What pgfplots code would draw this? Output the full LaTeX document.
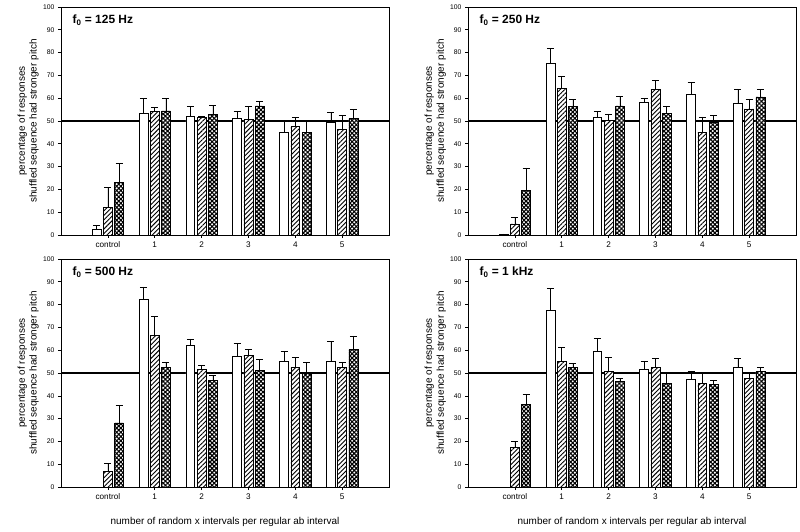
\documentclass[border=0pt]{standalone}
\usepackage{pgfplots}
\pgfplotsset{compat=1.18}
\usepackage{pgfplotstable}
\usetikzlibrary{patterns,patterns.meta}
\usepackage{fontspec}
\setmainfont{Liberation Sans}

\pgfplotstableread{
x w we h he c ce
0 2.5 1.6 12.2 8.7 22.9 8.6
1 53.4 6.4 54.1 1.8 54.4 5.5
2 52.2 4.1 51.6 0.4 52.9 4.0
3 51.0 3.1 50.7 5.6 56.6 1.9
4 45.1 4.9 47.8 3.7 45.1 4.8
5 49.3 4.4 46.3 6.2 51.0 4.1
}\dataA
\pgfplotstableread{
x w we h he c ce
0 0.5 0.0 4.9 3.0 19.4 10.0
1 75.4 6.5 64.3 5.3 56.3 3.3
2 51.8 2.3 50.4 2.7 56.6 4.4
3 58.4 1.7 63.8 4.1 53.2 3.1
4 61.5 5.3 45.0 6.8 49.3 3.2
5 57.8 6.3 55.3 4.4 60.6 3.4
}\dataB
\pgfplotstableread{
x w we h he c ce
0 nan nan 6.7 3.6 28.1 7.6
1 82.4 5.4 66.5 8.3 52.6 2.1
2 62.0 3.0 51.5 2.0 46.9 2.1
3 57.3 5.8 57.7 2.8 51.3 4.7
4 55.1 4.4 52.3 4.6 49.9 4.8
5 55.2 8.6 52.6 2.2 60.2 6.1
}\dataC
\pgfplotstableread{
x w we h he c ce
0 nan nan 17.2 2.9 36.1 4.5
1 77.4 9.8 55.0 6.3 52.5 1.8
2 59.7 5.5 50.6 6.1 46.2 1.6
3 51.8 3.5 52.3 4.2 45.3 4.7
4 47.2 3.7 45.5 4.4 45.0 1.8
5 52.5 4.0 47.5 2.4 50.6 1.9
}\dataD

\pgfplotsset{
 panel/.style={
  scale only axis, width=328bp, height=228bp,
  anchor=south west,
  xmin=-1, xmax=6, ymin=0, ymax=100,
  xtick={0,...,5}, xticklabels={control,1,2,3,4,5},
  ytick={0,10,...,100},
  extra y ticks={50}, extra y tick labels={},
  extra y tick style={grid=major, major grid style={black, line width=1.3pt}, major tick length=0pt},
  tick align=outside, ytick pos=left, xtick pos=bottom,
  major tick length=3bp,
  tick style={black, line width=0.6pt},
  axis line style={line width=0.8pt},
  yticklabel style={font=\fontsize{6.8}{8}\selectfont},
  xticklabel style={font=\fontsize{8.2}{9}\selectfont},
  /pgf/number format/assume math mode=true,
  ylabel={percentage of responses\\shuffled sequence had stronger pitch},
  every axis y label/.style={at={(axis description cs:-0.1,0.5)}, rotate=90, anchor=center, align=center, font=\fontsize{10}{12}\selectfont},
  every axis x label/.style={at={(axis description cs:0.5,0)}, yshift=-35bp, anchor=center, font=\fontsize{10}{12}\selectfont},
 },
 eb/.style={error bars/y dir=plus, error bars/y explicit,
  error bars/error bar style={black,line width=0.6pt},
  error bars/error mark options={black, rotate=90, mark size=3.5bp, line width=0.6pt}},
 barA/.style={ybar, bar width=0.19, bar shift=0, draw=black, line width=0.6pt, fill=white, eb},
 barB/.style={ybar, bar width=0.19, bar shift=0, draw=black, line width=0.6pt, fill=white,
  postaction={pattern={Lines[angle=45,distance=3.2bp,line width=0.9bp]}}, eb},
 barC/.style={ybar, bar width=0.19, bar shift=0, draw=black, line width=0.6pt, fill=white,
  postaction={pattern={Hatch[angle=45,distance=3bp,line width=1.1bp]}}, eb},
}

\newcommand{\panel}[2]{%
  \addplot[barA] table[x expr=\thisrow{x}-0.24, y=w, y error=we] {#1};
  \addplot[barB] table[x=x, y=h, y error=he] {#1};
  \addplot[barC] table[x expr=\thisrow{x}+0.24, y=c, y error=ce] {#1};
  \node[anchor=north west, font=\bfseries\fontsize{12}{14}\selectfont, inner sep=0pt] at (rel axis cs:0.035,0.965) {f\textsubscript{0} = #2};
}

\begin{document}
\begin{tikzpicture}
\path (0,0) rectangle (800bp,532bp);
\begin{axis}[panel, at={(61bp,297bp)}]
\panel{\dataA}{125 Hz}
\end{axis}
\begin{axis}[panel, at={(468bp,297bp)}]
\panel{\dataB}{250 Hz}
\end{axis}
\begin{axis}[panel, at={(61bp,45bp)}, xlabel={number of random x intervals per regular ab interval}]
\panel{\dataC}{500 Hz}
\end{axis}
\begin{axis}[panel, at={(468bp,45bp)}, xlabel={number of random x intervals per regular ab interval}]
\panel{\dataD}{1 kHz}
\end{axis}
\end{tikzpicture}
\end{document}
